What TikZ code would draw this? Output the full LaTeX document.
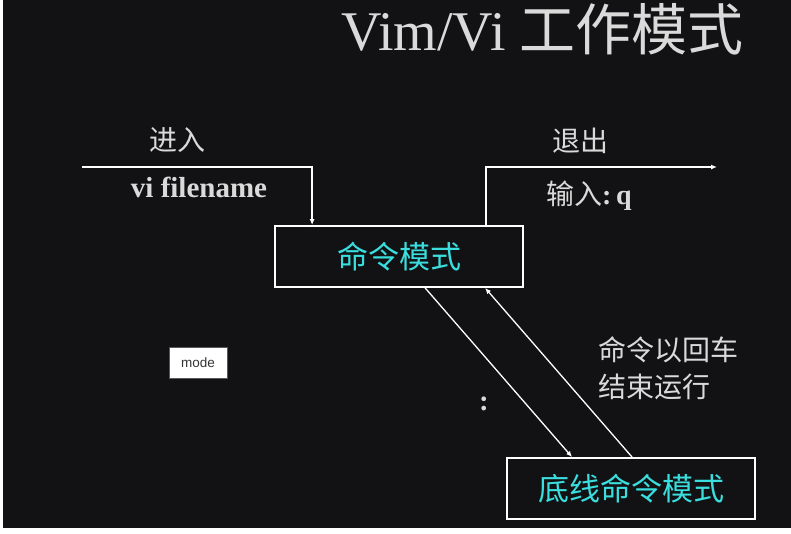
\documentclass[tikz,border=0pt]{standalone}
\usepackage{fontspec}
\setmainfont{Liberation Serif}
\newfontfamily\cjk{Noto Sans CJK SC}
\newfontfamily\uisans{Liberation Sans}
\usetikzlibrary{arrows.meta}

\definecolor{board}{RGB}{18,18,20}
\definecolor{chalk}{RGB}{218,218,218}
\definecolor{modecyan}{RGB}{58,222,222}

\tikzstyle{heading} = [text=chalk, inner sep=0pt, font=\fontsize{56}{60}\selectfont]
\tikzstyle{word} = [text=chalk, inner sep=0pt, font=\cjk\fontsize{28}{37}\selectfont]
\tikzstyle{cmdtext} = [text=chalk, inner sep=0pt, font=\bfseries\fontsize{29}{30}\selectfont]
\tikzstyle{modebox} = [draw=white, line width=1.8pt, minimum width=248pt, minimum height=61pt,
    text=modecyan, font=\cjk\fontsize{31}{34}\selectfont]
\tikzstyle{flow} = [draw=white, line width=1.8pt, -{Latex[length=6pt,width=5pt]}]
\tikzstyle{slant} = [draw=white, line width=1.3pt, -{Latex[length=6pt,width=5pt]}]
\tikzstyle{tag} = [fill=white, draw=board!70, minimum width=58pt, minimum height=31pt,
    text=black!80, font=\uisans\fontsize{13.5}{15}\selectfont]

\begin{document}
\begin{tikzpicture}[x=1pt, y=-1pt]
\useasboundingbox (0,0) rectangle (791,533);
\fill[white] (0,0) rectangle (791,533);
\fill[board] (3,0) rectangle (791,528);

\node[heading, anchor=base west] (title) at (341,50) {Vim/Vi {\cjk 工作模式}};

\node[word] (enterlbl) at (177,140) {进入};
\node[cmdtext, anchor=base] (vicmd) at (199,197) {vi filename};
\node[word] (quitlbl) at (580,141) {退出};
\node[word, anchor=west] (quitcmd) at (546,196) {输入{\rmfamily\bfseries :\,q}};

\node[modebox] (cmd) at (399,256.5) {命令模式};
\node[modebox] (last) at (631,488.5) {底线命令模式};

\node[word, anchor=west, align=left] (enterkey) at (598,368) {命令以回车\\结束运行};
\node[cmdtext] (colon) at (484,404) {:};
\node[tag] (mode) at (198,362.5) {mode};

\coordinate (enter) at (82,167);
\coordinate (quit) at (717,167);

\draw[flow] (enter) -| ([xshift=38pt]cmd.north west);
\draw[flow] ([xshift=-38pt]cmd.north east) |- (quit);
\draw[slant] ([xshift=151pt]cmd.south west) -- ([xshift=66pt]last.north west);
\draw[slant] ([xshift=126pt]last.north west) -- ([xshift=211pt]cmd.south west);
\end{tikzpicture}
\end{document}
